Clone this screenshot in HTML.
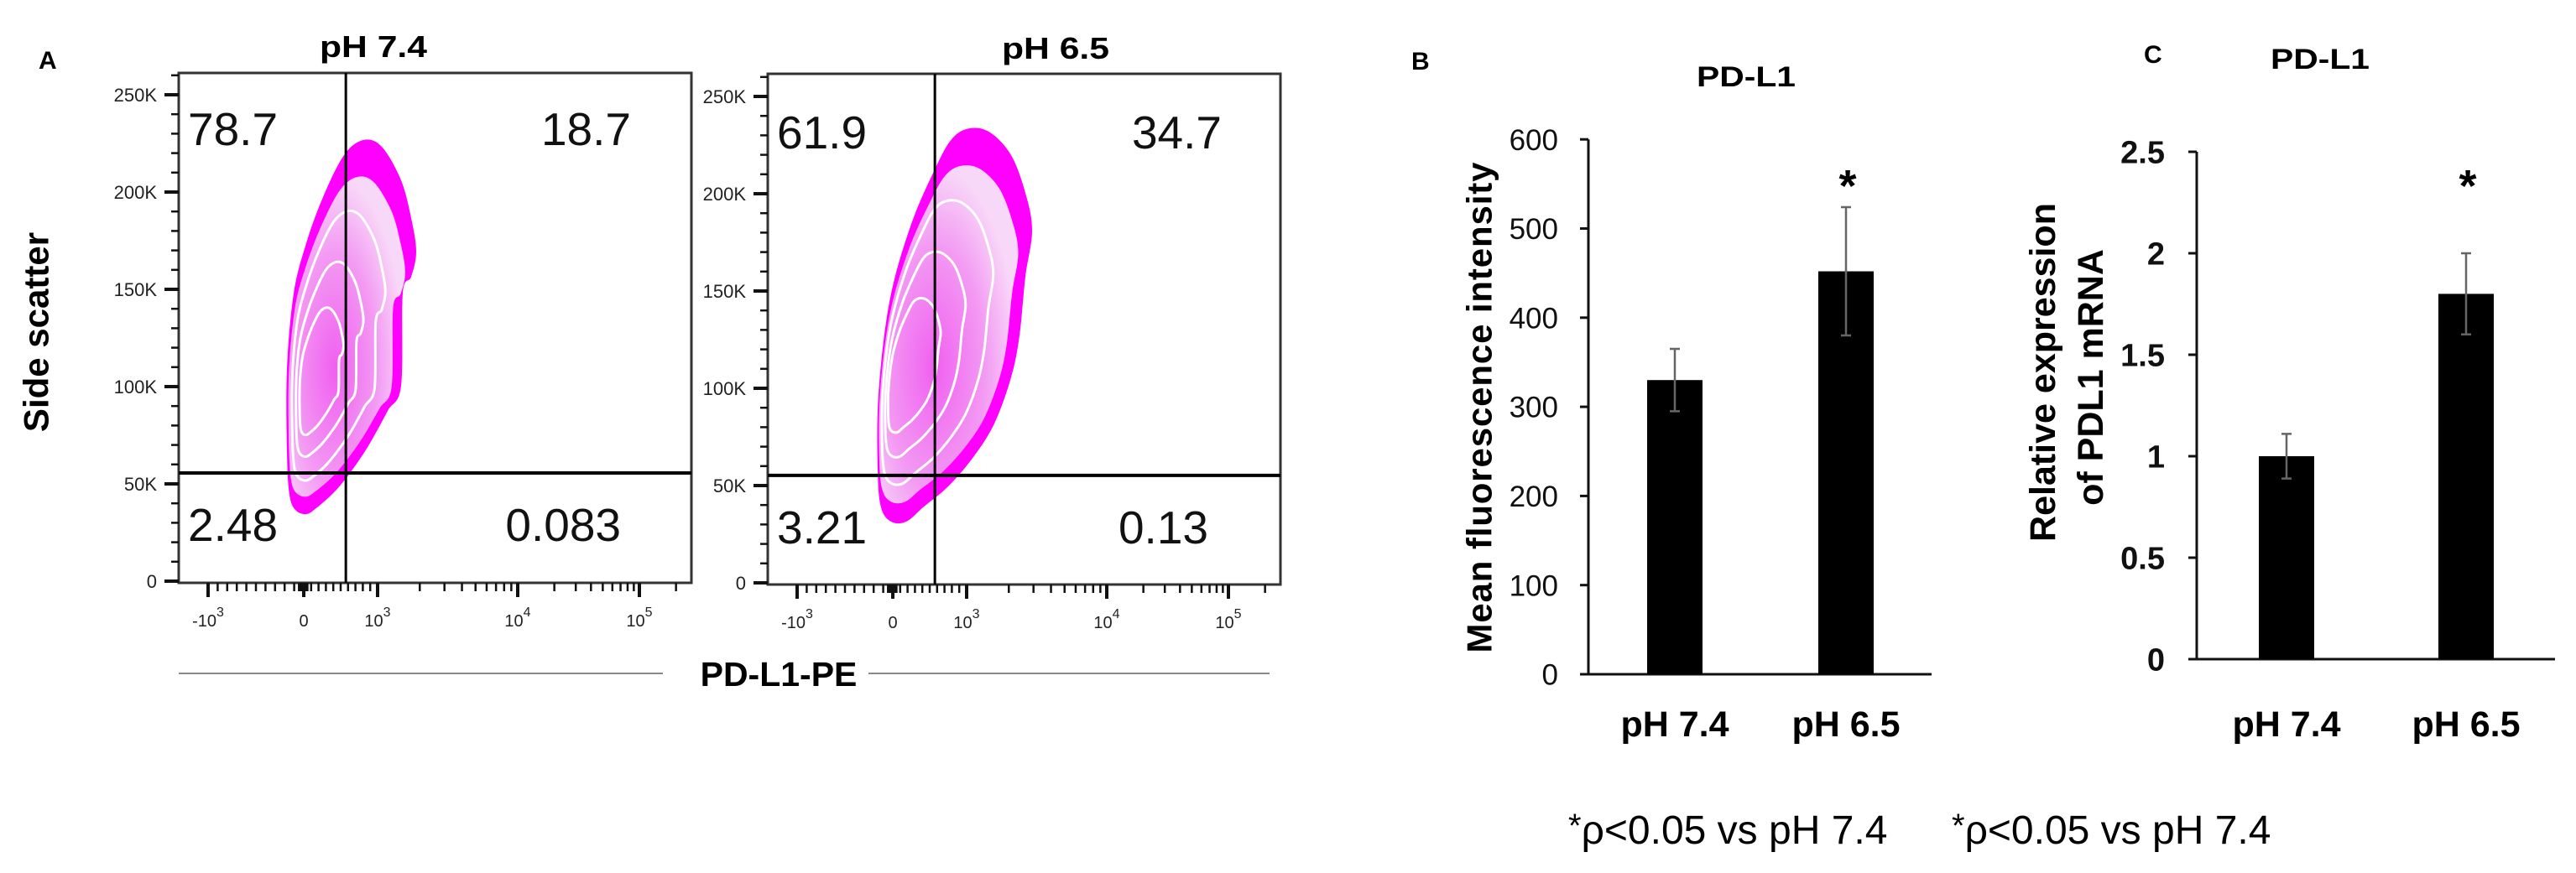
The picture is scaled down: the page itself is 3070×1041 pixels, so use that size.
<!DOCTYPE html>
<html><head><meta charset="utf-8">
<style>
html,body{margin:0;padding:0;background:#fff;}
svg{display:block;font-family:"Liberation Sans",Arial,sans-serif;}
</style></head>
<body>
<svg id="fig" width="3070" height="1041" viewBox="0 0 3070 1041" xmlns="http://www.w3.org/2000/svg">
<defs>
<radialGradient id="pinkGrad" cx="0.4" cy="0.6" r="0.6">
<stop offset="0" stop-color="#f060f0"/>
<stop offset="0.6" stop-color="#f39af3"/>
<stop offset="1" stop-color="#f8d8f8"/>
</radialGradient>
</defs>
<text x="46" y="82" font-size="30" font-weight="bold">A</text>
<text x="1682" y="83" font-size="30" font-weight="bold">B</text>
<text x="2555" y="75" font-size="30" font-weight="bold">C</text>
<text transform="translate(43,396) rotate(-90)" text-anchor="middle" dominant-baseline="central" font-size="42" font-weight="bold">Side scatter</text>
<line x1="213" y1="803" x2="790" y2="803" stroke="#888" stroke-width="2"/>
<line x1="1035" y1="803" x2="1513" y2="803" stroke="#888" stroke-width="2"/>
<text x="928" y="818" text-anchor="middle" font-size="41" font-weight="bold">PD-L1-PE</text>
<text x="2081" y="103" text-anchor="middle" font-size="34" font-weight="bold" textLength="118" lengthAdjust="spacingAndGlyphs">PD-L1</text>
<text x="2765" y="82" text-anchor="middle" font-size="34" font-weight="bold" textLength="118" lengthAdjust="spacingAndGlyphs">PD-L1</text>
<text transform="translate(1763,486) rotate(-90)" text-anchor="middle" dominant-baseline="central" font-size="42" font-weight="bold" textLength="585" lengthAdjust="spacing">Mean fluorescence intensity</text>
<text transform="translate(2435,444) rotate(-90)" text-anchor="middle" dominant-baseline="central" font-size="43" font-weight="bold">Relative expression</text>
<text transform="translate(2492,450) rotate(-90)" text-anchor="middle" dominant-baseline="central" font-size="43" font-weight="bold">of PDL1 mRNA</text>
<text x="1869" y="1006" font-size="48"><tspan font-size="40" dy="-8">*</tspan><tspan dy="8">ρ&lt;0.05 vs pH 7.4</tspan></text>
<text x="2326" y="1006" font-size="48"><tspan font-size="40" dy="-8">*</tspan><tspan dy="8">ρ&lt;0.05 vs pH 7.4</tspan></text>
<g id="layer"></g>
</svg>
<script>
// ---------- data ----------
const flowTitles = ["pH 7.4", "pH 6.5"];
const quadPh74 = ["78.7", "18.7", "2.48", "0.083"];
const quadPh65 = ["61.9", "34.7", "3.21", "0.13"];
const gateSSC = [55.6, 55.2];   // K
const gatePE = [570, 570];
const sscTicks = [0, 50, 100, 150, 200, 250];
const sscTickLabels = ["0", "50K", "100K", "150K", "200K", "250K"];
const peTicks = [-1000, 0, 1000, 10000, 100000];
const peTickBase = ["-10", "0", "10", "10", "10"];
const peTickExp = ["3", "", "3", "4", "5"];

const barCats = ["pH 7.4", "pH 6.5"];
const mfiValues = [330, 452];
const mfiErr = [35, 72];
const mfiTicks = [0, 100, 200, 300, 400, 500, 600];
const mfiSig = [false, true];
const relValues = [1.0, 1.8];
const relErr = [0.11, 0.2];
const relTicks = [0, 0.5, 1, 1.5, 2, 2.5];
const relTickLabels = ["0", "0.5", "1", "1.5", "2", "2.5"];
const relSig = [false, true];

// ---------- helpers ----------
const NS = "http://www.w3.org/2000/svg";
const layer = document.getElementById("layer");
function mk(tag, attrs, parent) {
  const e = document.createElementNS(NS, tag);
  for (const k in attrs) e.setAttribute(k, attrs[k]);
  (parent || layer).appendChild(e);
  return e;
}
function smooth(pts) {
  const n = pts.length; let d = "M" + pts[0][0] + "," + pts[0][1];
  for (let i = 0; i < n; i++) {
    const p0 = pts[(i - 1 + n) % n], p1 = pts[i], p2 = pts[(i + 1) % n], p3 = pts[(i + 2) % n];
    const c1 = [p1[0] + (p2[0] - p0[0]) / 6, p1[1] + (p2[1] - p0[1]) / 6];
    const c2 = [p2[0] - (p3[0] - p1[0]) / 6, p2[1] - (p3[1] - p1[1]) / 6];
    d += "C" + c1[0].toFixed(1) + "," + c1[1].toFixed(1) + " " + c2[0].toFixed(1) + "," + c2[1].toFixed(1) + " " + p2[0] + "," + p2[1];
  }
  return d + "Z";
}

// ---------- flow plots ----------
const plots = [
  {left: 213, top: 87, right: 824, bottom: 695, titleX: 445, titleY: 68, q: quadPh74,
   blob: [[433,167],[455,175],[478,215],[490,260],[496,300],[490,330],[480,350],[478,460],[462,490],[440,530],[420,560],[400,585],[378,605],[365,613],[352,608],[345,590],[342,540],[342,440],[350,350],[365,290],[385,235],[410,185]],
   core: [365, 470], qx: [224, 752, 224, 740], qy: [173, 173, 645, 645]},
  {left: 915, top: 88, right: 1526, bottom: 697, titleX: 1258, titleY: 70, q: quadPh65,
   blob: [[1156,153],[1180,158],[1205,185],[1222,230],[1230,275],[1222,330],[1215,400],[1205,450],[1185,505],[1160,545],[1130,580],[1100,605],[1080,622],[1062,622],[1050,605],[1046,560],[1047,470],[1060,360],[1085,270],[1115,200],[1135,165]],
   core: [1065, 460], qx: [926, 1456, 926, 1440], qy: [177, 177, 648, 648]}
];
plots.forEach((p, pi) => {
  const g = mk("g", {});
  
  
  const y0 = p.bottom - 2;
  const ys = v => y0 - v * 2.32;
  const xs = v => {
    if (v < 0) return p.left + 149 + v / 1000 * 114;
    if (v <= 1000) return p.left + 149 + v / 1000 * 88;
    if (v <= 10000) return p.left + 237 + Math.log10(v / 1000) * 167;
    return p.left + 404 + Math.log10(v / 10000) * 145;
  };
  const title = mk("text", {x: p.titleX, y: p.titleY, "text-anchor": "middle", "font-size": 36, "font-weight": "bold", textLength: 128, lengthAdjust: "spacingAndGlyphs"}, g);
  title.textContent = flowTitles[pi];
  
  
  // contour blob
  const outer = mk("path", {d: smooth(p.blob), fill: "#ff00ff"}, g);
  
  
  const scales = [0.9, 0.72, 0.52, 0.34];
  scales.forEach((s, si) => {
    const pts = p.blob.map(q => [+(p.core[0] + (q[0] - p.core[0]) * s).toFixed(1), +(p.core[1] + (q[1] - p.core[1]) * s * (si === 0 ? 0.95 : 1)).toFixed(1)]);
    const c = mk("path", {d: smooth(pts), fill: si === 0 ? "url(#pinkGrad)" : "none", stroke: si === 0 ? "none" : "#fff", "stroke-width": 3}, g);
    
    
  });
  // frame
  const fr = mk("rect", {x: p.left, y: p.top, width: p.right - p.left, height: p.bottom - p.top, fill: "none", stroke: "#333", "stroke-width": 3}, g);
  
  
  // gates
  const gx = xs(gatePE[pi]), gy = ys(gateSSC[pi]);
  const vg = mk("line", {x1: gx, y1: p.top, x2: gx, y2: p.bottom, stroke: "#000", "stroke-width": 3}, g);
  
  
  const hg = mk("line", {x1: p.left, y1: gy, x2: p.right, y2: gy, stroke: "#000", "stroke-width": 4}, g);
  
  
  // quadrant percentages
  p.q.forEach((t, i) => {
    const tx = mk("text", {x: p.qx[i], y: p.qy[i], "font-size": 55, fill: "#111", "text-anchor": (i % 2 === 0) ? "start" : "end"}, g);
    tx.textContent = t;
    
    
  });
  // y ticks
  for (let v = 0; v <= 260; v += 10) {
    const major = v % 50 === 0;
    const t = mk("line", {x1: major ? p.left - 17 : p.left - 9, y1: ys(v), x2: p.left, y2: ys(v), stroke: "#111", "stroke-width": major ? 4 : 2.5}, g);
    
    
  }
  sscTicks.forEach((v, i) => {
    const t = mk("text", {x: p.left - 26, y: ys(v) + 8, "text-anchor": "end", "font-size": 22, fill: "#222"}, g);
    t.textContent = sscTickLabels[i];
    
    
  });
  // x ticks
  const minor = [];
  for (let k = 1; k <= 9; k++) { minor.push(-k * 100); minor.push(k * 100); }
  [10, 20, 30, 40, 50].forEach(k => { minor.push(k); minor.push(-k); });
  for (let k = 2; k <= 9; k++) { minor.push(k * 1000); minor.push(k * 10000); }
  minor.push(200000);
  minor.forEach(v => {
    const t = mk("line", {x1: xs(v), y1: p.bottom, x2: xs(v), y2: p.bottom + 10, stroke: "#111", "stroke-width": 2.5}, g);
    
    
  });
  peTicks.forEach((v, i) => {
    const t = mk("line", {x1: xs(v), y1: p.bottom, x2: xs(v), y2: p.bottom + 17, stroke: "#111", "stroke-width": 4}, g);
    
    
    const lb = mk("text", {x: xs(v), y: p.bottom + 52, "text-anchor": "middle", "font-size": 20, fill: "#222"}, g);
    
    
    const b = mk("tspan", {}, lb); b.textContent = peTickBase[i];
    if (peTickExp[i]) { const s = mk("tspan", {dy: -12, "font-size": 16}, lb); s.textContent = peTickExp[i]; }
  });
});

// ---------- bar charts ----------
function barChart(cfg) {
  const g = mk("g", {});
  
  
  const ys = v => cfg.y0 - v * cfg.k;
  const ax = mk("line", {x1: cfg.axX, y1: ys(cfg.ticks[cfg.ticks.length - 1]), x2: cfg.axX, y2: cfg.y0, stroke: "#111", "stroke-width": 3}, g);
  
  
  const bx = mk("line", {x1: cfg.axX - 10, y1: cfg.y0, x2: cfg.axEnd, y2: cfg.y0, stroke: "#111", "stroke-width": 3}, g);
  
  
  cfg.ticks.forEach((v, i) => {
    const t = mk("line", {x1: cfg.axX - 10, y1: ys(v), x2: cfg.axX, y2: ys(v), stroke: "#111", "stroke-width": 3}, g);
    
    
    const lb = mk("text", {x: cfg.labelX, y: ys(v) + cfg.fs * 0.36, "text-anchor": "end", "font-size": cfg.fs, "font-weight": cfg.bold ? "bold" : "normal", fill: "#111"}, g);
    lb.textContent = cfg.tickLabels[i];
    
    
  });
  cfg.values.forEach((v, i) => {
    const cx = cfg.centers[i];
    const r = mk("rect", {x: cx - cfg.bw / 2, y: ys(v), width: cfg.bw, height: cfg.y0 - ys(v), fill: "#000"}, g);
    
    
    const e = cfg.err[i];
    const eb = mk("path", {d: "M" + cx + "," + ys(v + e) + "V" + ys(v - e) + "M" + (cx - 6) + "," + ys(v + e) + "h12M" + (cx - 6) + "," + ys(v - e) + "h12", stroke: "#666", "stroke-width": 2.5, fill: "none"}, g);
    
    
    const cl = mk("text", {x: cx, y: 878, "text-anchor": "middle", "font-size": 43, "font-weight": "bold"}, g);
    cl.textContent = barCats[i];
    
    
    if (cfg.sig[i]) {
      const st = mk("text", {x: cx + 2, y: 240, "text-anchor": "middle", "font-size": 54, "font-weight": "bold"}, g);
      st.textContent = "*";
      
      
    }
  });
}
barChart({name: "mfi-bar-chart", y0: 804, k: 1.063, axX: 1893, axEnd: 2302, labelX: 1857, fs: 35, bold: false,
  ticks: mfiTicks, tickLabels: mfiTicks.map(String), values: mfiValues, err: mfiErr, sig: mfiSig, centers: [1996, 2200], bw: 66});
barChart({name: "relative-expression-bar-chart", y0: 786, k: 242, axX: 2618, axEnd: 3045, labelX: 2580, fs: 38, bold: true,
  ticks: relTicks, tickLabels: relTickLabels, values: relValues, err: relErr, sig: relSig, centers: [2725, 2939], bw: 66});
</script>
</body></html>
